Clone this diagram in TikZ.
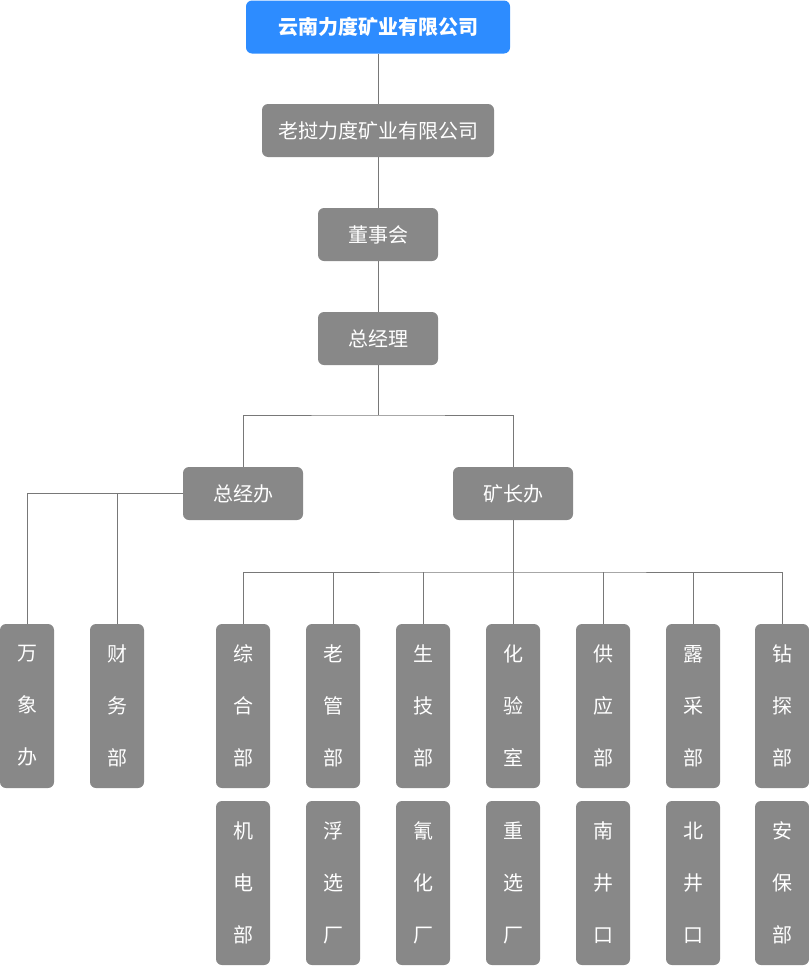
\documentclass[tikz,border=0pt]{standalone}
\usepackage{fontspec}
\setmainfont{Noto Sans CJK SC}
\usetikzlibrary{positioning}
\definecolor{topblue}{RGB}{45,140,255}
\definecolor{boxgray}{RGB}{136,136,136}
\definecolor{linegray}{RGB}{120,120,120}
\tikzset{
  orgnode/.style = {align=center, inner sep=0pt, text=white, rounded corners=4.5pt, fill=boxgray, font=\fontsize{15}{18}\selectfont},
  company/.style = {orgnode, minimum height=39.75pt},
  head/.style = {company, fill=topblue, minimum width=198pt, font=\fontsize{15}{18}\selectfont\bfseries},
  office/.style = {company, minimum width=90pt},
  dept/.style = {orgnode, minimum width=40.5pt, minimum height=123pt, font=\fontsize{15}{39}\selectfont},
  link/.style = {draw=linegray, line width=0.75pt},
}

\begin{document}
\begin{tikzpicture}[x=0.75pt, y=-0.75pt]
\useasboundingbox (0,0) rectangle (809,967);

\node [head] (ynld) at (378,27) {云南力度矿业有限公司};
\node [company, minimum width=174pt] (lwld) at (378,130.5) {老挝力度矿业有限公司};
\node [office] (dsh) at (378,234.5) {董事会};
\node [office] (zjl) at (378,338.5) {总经理};
\node [office] (zjb) at (243,493.5) {总经办};
\node [office] (kzb) at (513,493.5) {矿长办};

% left branch
\node [dept] (wxb) at (27,706) {万\\象\\办};
\node [dept] (cwb) at (117,706) {财\\务\\部};

% right branch, upper row
\node [dept] (zhb) at (243,706) {综\\合\\部};
\node [dept] (lgb) at (333,706) {老\\管\\部};
\node [dept] (sjb) at (423,706) {生\\技\\部};
\node [dept] (hys) at (513,706) {化\\验\\室};
\node [dept] (gyb) at (603,706) {供\\应\\部};
\node [dept] (lcb) at (693,706) {露\\采\\部};
\node [dept] (ztb) at (782,706) {钻\\探\\部};

% right branch, lower row
\node [dept] (jdb) at (243,883) {机\\电\\部};
\node [dept] (fxc) at (333,883) {浮\\选\\厂};
\node [dept] (qhc) at (423,883) {氰\\化\\厂};
\node [dept] (zxc) at (513,883) {重\\选\\厂};
\node [dept] (njk) at (603,883) {南\\井\\口};
\node [dept] (bjk) at (693,883) {北\\井\\口};
\node [dept] (abb) at (782,883) {安\\保\\部};

\coordinate (busA) at (378,415);
\coordinate (busB) at (513,572);

\draw [link] (ynld) -- (lwld);
\draw [link] (lwld) -- (dsh);
\draw [link] (dsh) -- (zjl);
\draw [link] (zjl) -- (busA);
\draw [link] (zjb.north) |- (busA) -| (kzb.north);

\draw [link] (zjb.west) -| (wxb.north);
\draw [link] (cwb.north) |- (zjb.west);

\draw [link] (kzb.south) -- (hys.north);
\draw [link] (zhb.north) |- (busB) -| (ztb.north);
\draw [link] (lgb.north) -- (lgb.north |- busB);
\draw [link] (sjb.north) -- (sjb.north |- busB);
\draw [link] (gyb.north) -- (gyb.north |- busB);
\draw [link] (lcb.north) -- (lcb.north |- busB);
\end{tikzpicture}
\end{document}
